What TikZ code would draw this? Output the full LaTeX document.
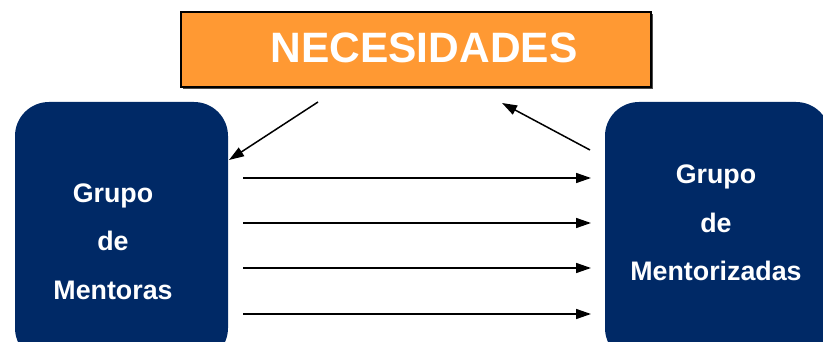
\documentclass[tikz,border=0pt]{standalone}
\usepackage{fontspec}
\setmainfont{Liberation Sans}
\usetikzlibrary{arrows.meta}
\definecolor{orangefill}{HTML}{FF9933}
\definecolor{navy}{HTML}{002966}
\begin{document}
\begin{tikzpicture}[x=1pt,y=-1pt,
  groupbox/.style={fill=navy, draw=none, rounded corners=34pt, inner sep=0pt},
  grouptext/.style={text=white, align=center, font=\fontsize{26.8}{48.5}\selectfont\bfseries, inner sep=0pt},
  conn/.style={line width=1.5pt, -{Triangle[length=15pt,width=10pt]}}
]
\useasboundingbox (0,0) rectangle (823,342);
\begin{scope}
\clip (0,0) rectangle (823,342);
% title box
\node[fill=black!70, minimum width=470pt, minimum height=75pt, inner sep=0pt] (shadow) at (418,51.5) {};
\node[fill=orangefill, draw=black, line width=1.5pt, minimum width=470pt, minimum height=75pt, inner sep=0pt] (N) at (416,49.5) {};
\node[text=white, font=\fontsize{42.5}{42.5}\selectfont\bfseries, inner sep=0pt] (Nt) at (424,48) {NECESIDADES};
% group boxes
\node[groupbox, minimum width=213pt, minimum height=260pt] (L) at (121.5,232) {};
\node[groupbox, minimum width=225pt, minimum height=260pt] (R) at (717.5,232) {};
\node[grouptext] (Lt) at (113,241.5) {Grupo\\de\\Mentoras};
\node[grouptext] (Rt) at (716,223) {Grupo\\de\\Mentorizadas};
\end{scope}
% connectors
\coordinate (a1) at (318,102);
\coordinate (a2) at (229,160);
\coordinate (b1) at (590,150);
\coordinate (b2) at (502,103);
\draw[conn] (a1) -- (a2);
\draw[conn] (b1) -- (b2);
\foreach \y/\n in {178/1,223/2,268/3,314/4}{
  \coordinate (h\n s) at (243,\y);
  \coordinate (h\n e) at (591,\y);
  \draw[conn] (h\n s) -- (h\n e);
}
\end{tikzpicture}
\end{document}
